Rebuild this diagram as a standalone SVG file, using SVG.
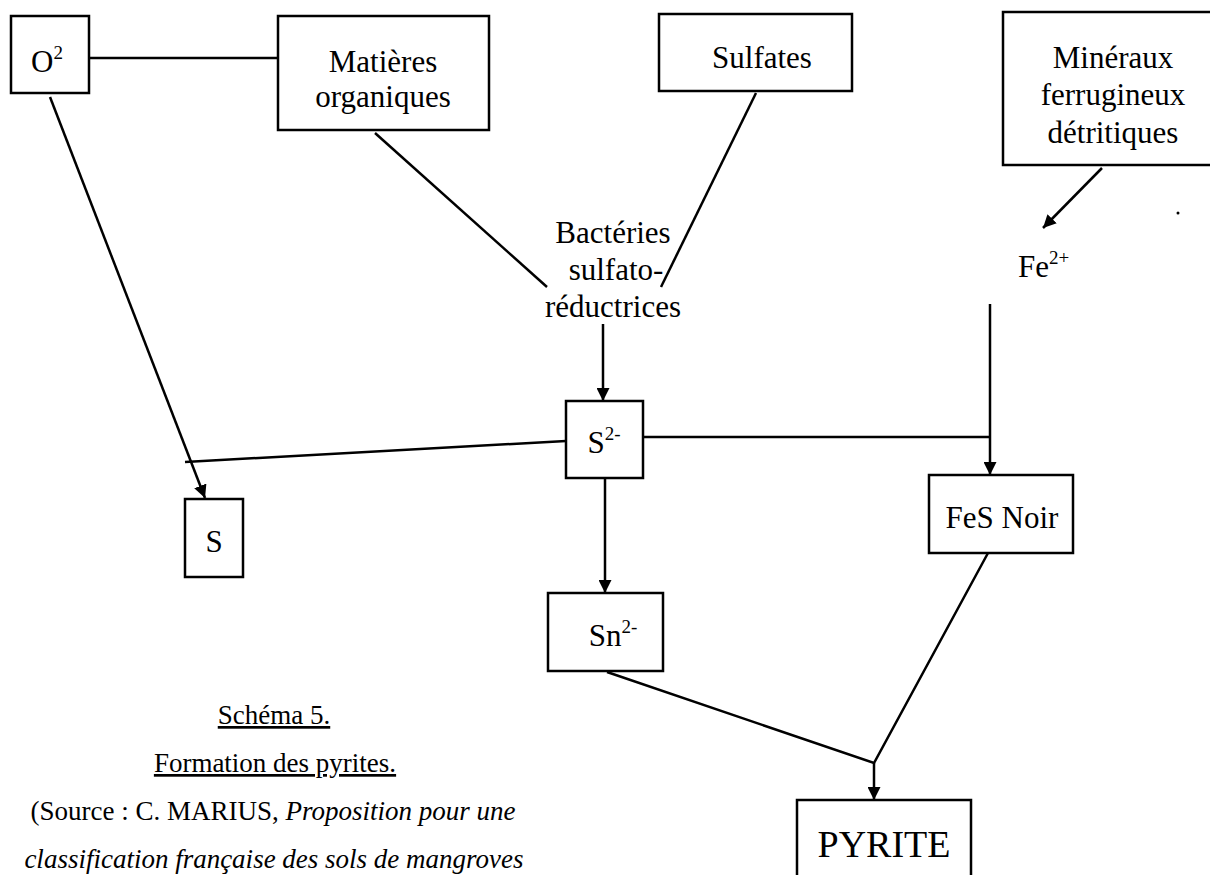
<svg xmlns="http://www.w3.org/2000/svg" width="1210" height="875" viewBox="0 0 1210 875">
<style>
.box{fill:#fff;stroke:#000;stroke-width:2.5}
.t{font-family:"Liberation Serif","Times New Roman",serif;font-size:31px;fill:#000;text-anchor:middle}
.big{font-size:38px}
.cap{font-family:"Liberation Serif","Times New Roman",serif;font-size:27px;fill:#000;text-anchor:middle}
.ln{stroke:#000;stroke-width:2.5;fill:none}
</style>
<defs>
<marker id="ah" viewBox="0 0 10 10" refX="10" refY="5" markerWidth="13" markerHeight="13" markerUnits="userSpaceOnUse" orient="auto">
<path d="M0,0 L10,5 L0,10 z" fill="#000"/>
</marker>
</defs>
<rect width="1210" height="875" fill="#fff"/>
<g id="connectors">
<line class="ln" x1="89" y1="58" x2="278" y2="58"/>
<line class="ln" x1="50" y1="97" x2="205" y2="498" marker-end="url(#ah)"/>
<line class="ln" x1="375" y1="133" x2="547" y2="287"/>
<line class="ln" x1="756" y1="93" x2="661" y2="287"/>
<line class="ln" x1="603" y1="324" x2="603" y2="401" marker-end="url(#ah)"/>
<line class="ln" x1="185" y1="462" x2="566" y2="441"/>
<line class="ln" x1="643" y1="437" x2="990" y2="437"/>
<line class="ln" x1="1102" y1="168" x2="1043" y2="228" marker-end="url(#ah)"/>
<line class="ln" x1="990" y1="304" x2="990" y2="475" marker-end="url(#ah)"/>
<line class="ln" x1="605" y1="478" x2="605" y2="593" marker-end="url(#ah)"/>
<polyline class="ln" points="607,672 874,763 988,553"/>
<line class="ln" x1="874" y1="763" x2="874" y2="800" marker-end="url(#ah)"/>
</g>
<g id="o2">
<rect class="box" x="11" y="16" width="78" height="77"/>
<text class="t" x="47" y="72">O<tspan font-size="19" dy="-13">2</tspan></text>
</g>
<g id="matieres">
<rect class="box" x="278" y="16" width="211" height="114"/>
<text class="t" x="383" y="72">Matières</text>
<text class="t" x="383" y="107">organiques</text>
</g>
<g id="sulfates">
<rect class="box" x="659" y="14" width="193" height="77"/>
<text class="t" x="762" y="68">Sulfates</text>
</g>
<g id="mineraux">
<rect class="box" x="1003" y="12" width="215" height="153"/>
<text class="t" x="1113" y="68">Minéraux</text>
<text class="t" x="1113" y="105">ferrugineux</text>
<text class="t" x="1113" y="143">détritiques</text>
</g>
<circle cx="1178" cy="213" r="1.5" fill="#000"/>
<g id="bacteries">
<text class="t" x="613" y="243">Bactéries</text>
<text class="t" x="616" y="280">sulfato-</text>
<text class="t" x="613" y="317">réductrices</text>
</g>
<g id="fe2">
<text class="t" x="1018" y="277" style="text-anchor:start">Fe<tspan font-size="19" dy="-13">2+</tspan></text>
</g>
<g id="s2">
<rect class="box" x="566" y="401" width="77" height="77"/>
<text class="t" x="604" y="453">S<tspan font-size="19" dy="-13">2-</tspan></text>
</g>
<g id="s">
<rect class="box" x="185" y="499" width="58" height="78"/>
<text class="t" x="214" y="552">S</text>
</g>
<g id="fesnoir">
<rect class="box" x="929" y="475" width="144" height="78"/>
<text class="t" x="1002" y="528">FeS Noir</text>
</g>
<g id="sn2">
<rect class="box" x="548" y="593" width="115" height="78"/>
<text class="t" x="613" y="646">Sn<tspan font-size="19" dy="-13">2-</tspan></text>
</g>
<g id="pyrite">
<rect class="box" x="797" y="800" width="174" height="90"/>
<text class="t big" x="884" y="857">PYRITE</text>
</g>
<g id="caption">
<text class="cap" x="274" y="724" text-decoration="underline">Schéma 5.</text>
<text class="cap" x="275" y="772" text-decoration="underline">Formation des pyrites.</text>
<text class="cap" x="273" y="820">(Source : C. MARIUS, <tspan font-style="italic">Proposition pour une</tspan></text>
<text class="cap" x="274" y="868" font-style="italic">classification française des sols de mangroves</text>
</g>
</svg>
